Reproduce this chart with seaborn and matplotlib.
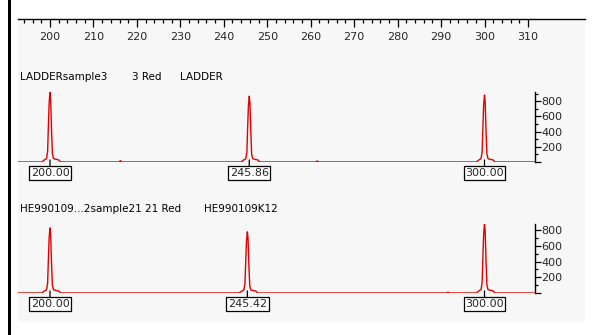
import numpy as np
import pandas as pd
import matplotlib
matplotlib.use("Agg")
import matplotlib.pyplot as plt
from matplotlib.patches import Rectangle
from matplotlib.ticker import FixedLocator, NullFormatter
import seaborn as sns

# ---------------- data ----------------
ruler_ticks = [200, 210, 220, 230, 240, 250, 260, 270, 280, 290, 300, 310]
ruler_minor = [194, 196, 198, 202, 204, 206, 208, 212, 214, 216, 218, 222, 224, 226, 228,
               232, 234, 236, 238, 242, 244, 246, 248, 252, 254, 256, 258, 262, 264, 266,
               268, 272, 274, 276, 278, 282, 284, 286, 288, 292, 294, 296, 298, 302, 304,
               306, 308]
intensity_ticks = [0, 200, 400, 600, 800]
intensity_labels = ["", "200", "400", "600", "800"]
intensity_minor = [100, 300, 500, 700, 900]

# peak shape profile: offset (bp) and relative height
profile_offset = [-1.9, -1.3, -0.8, -0.55, -0.38, -0.2, 0.0, 0.15, 0.36, 0.55, 0.8, 1.3, 2.0, 2.4]
profile_rel = [0.0, 0.03, 0.05, 0.15, 0.5, 0.85, 1.0, 0.9, 0.45, 0.12, 0.05, 0.04, 0.03, 0.0]

p1_title = ["LADDERsample3", "3 Red", "LADDER"]
p1_title_x = [20, 132, 180]
p1_peaks = [200.00, 245.86, 300.00]
p1_heights = [915, 865, 880]
p1_labels = ["200.00", "245.86", "300.00"]
p1_bumps = [216.2, 261.5]
p1_bump_h = [18, 15]

p2_title = ["HE990109...2sample21 21 Red", "HE990109K12"]
p2_title_x = [20, 204]
p2_peaks = [200.00, 245.42, 300.00]
p2_heights = [830, 780, 880]
p2_labels = ["200.00", "245.42", "300.00"]
p2_bumps = [291.6]
p2_bump_h = [10]

# ---------------- layout ----------------
W, H = 592, 335
RED = "#e00000"
BG = "#f7f7f7"
FONT = "DejaVu Sans"

sns.set_theme(style="white")
plt.rcParams["font.family"] = [FONT]

fig = plt.figure(figsize=(W / 100, H / 100), dpi=100)
fig.patch.set_facecolor("white")


def fx(px):
    return px / W


def fy(py):
    return 1 - py / H


# grey background and left black bar
fig.add_artist(Rectangle((fx(18), fy(322)), fx(585) - fx(18), fy(19) - fy(322),
                         transform=fig.transFigure, facecolor=BG, edgecolor="none", zorder=0))
fig.add_artist(Rectangle((fx(8), 0), fx(11) - fx(8), 1,
                         transform=fig.transFigure, facecolor="black", edgecolor="none", zorder=0))

px_per_bp = 4.345


def v(px):
    return 200 + (px - 50) / px_per_bp


# ---------------- ruler ----------------
axr = fig.add_axes([fx(18), fy(27), fx(585) - fx(18), fy(19) - fy(27)])
axr.set_facecolor("none")
axr.set_xlim(v(18), v(585))
axr.set_ylim(0, 1)
for s in ["left", "right", "bottom"]:
    axr.spines[s].set_visible(False)
axr.spines["top"].set_color("black")
axr.spines["top"].set_linewidth(1.0)
axr.xaxis.set_major_locator(FixedLocator(ruler_ticks))
axr.xaxis.set_minor_locator(FixedLocator(ruler_minor))
axr.set_xticklabels([str(t) for t in ruler_ticks])
axr.xaxis.set_minor_formatter(NullFormatter())
axr.tick_params(axis="x", which="major", top=True, bottom=False, labeltop=False,
                labelbottom=True, direction="in", length=6, width=0.9, color="black",
                labelsize=8, pad=3.5)
axr.tick_params(axis="x", which="minor", top=True, bottom=False, direction="in",
                length=3, width=0.9, color="black")
axr.set_yticks([])
axr.set_xlabel("")


# ---------------- panels ----------------
def build_trace(peaks, heights, bumps, bump_h, x0, x1):
    xs, ys = [x0], [0.0]
    feats = [(p, h, True) for p, h in zip(peaks, heights)] + \
            [(b, h, False) for b, h in zip(bumps, bump_h)]
    feats.sort()
    for p, h, full in feats:
        if full:
            for o, r in zip(profile_offset, profile_rel):
                xs.append(p + o)
                ys.append(h * r)
        else:
            xs += [p - 0.3, p, p + 0.3]
            ys += [0.0, h, 0.0]
    xs.append(x1)
    ys.append(0.0)
    return pd.DataFrame({"size": xs, "intensity": ys})


def panel(top_px, base_px, ymax, titles, title_x, peaks, heights, labels, bumps, bump_h):
    ax = fig.add_axes([fx(18), fy(base_px), fx(535) - fx(18), fy(top_px) - fy(base_px)])
    ax.set_facecolor("none")
    x0, x1 = v(18), v(535)
    df = build_trace(peaks, heights, bumps, bump_h, x0, x1)
    sns.lineplot(data=df, x="size", y="intensity", ax=ax, color=RED, linewidth=1.0,
                 estimator=None, sort=False)
    ax.set_xlim(x0, x1)
    ax.set_ylim(0, ymax)
    for s in ["left", "top", "bottom"]:
        ax.spines[s].set_visible(False)
    ax.spines["right"].set_visible(True)
    ax.spines["right"].set_color("black")
    ax.spines["right"].set_linewidth(1.0)
    ax.set_xticks([])
    ax.yaxis.tick_right()
    ax.yaxis.set_major_locator(FixedLocator(intensity_ticks))
    ax.set_yticklabels(intensity_labels)
    ax.yaxis.set_minor_locator(FixedLocator(intensity_minor))
    ax.tick_params(axis="y", which="major", right=True, left=False, direction="out",
                   length=4, width=0.9, color="black", labelsize=8, pad=0.5)
    ax.tick_params(axis="y", which="minor", right=True, left=False, direction="out",
                   length=2, width=0.9, color="black")
    ax.set_xlabel("")
    ax.set_ylabel("")
    # sample title
    for t, tx in zip(titles, title_x):
        fig.text(fx(tx), fy(top_px - 15), t, fontsize=7.5, color="black",
                 ha="left", va="center", family=FONT)
    # peak labels
    px_per_unit = (base_px - top_px) / ymax
    for p, lab in zip(peaks, labels):
        ax.annotate(lab, xy=(p, 2 / px_per_unit), xycoords="data",
                    xytext=(0, -13 * 0.72), textcoords="offset points",
                    ha="center", va="center", fontsize=8, family=FONT,
                    bbox=dict(boxstyle="square,pad=0.15", facecolor="white",
                              edgecolor="black", linewidth=0.9),
                    arrowprops=dict(arrowstyle="-", color="black", lw=0.9,
                                    shrinkA=0, shrinkB=0),
                    annotation_clip=False)
    return ax


panel(92, 162, 920, p1_title, p1_title_x, p1_peaks, p1_heights, p1_labels, p1_bumps, p1_bump_h)
panel(224, 293, 880, p2_title, p2_title_x, p2_peaks, p2_heights, p2_labels, p2_bumps, p2_bump_h)

fig.savefig("out.png", dpi=100, facecolor="white")
